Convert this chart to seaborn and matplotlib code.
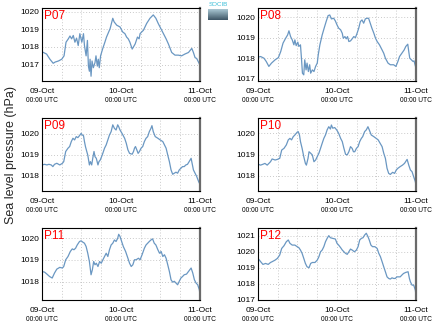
import matplotlib
matplotlib.use("Agg")
import matplotlib.pyplot as plt
from matplotlib.ticker import MultipleLocator, FixedLocator
import numpy as np
import seaborn as sns
import pandas as pd

# ---------------- data (hours since 09-Oct 00:00 UTC, sea level pressure hPa) -------------
stations = ["P07", "P08", "P09", "P10", "P11", "P12"]

p07_hours = [0, 1.4, 2.4, 3.4, 4.0, 5.0, 6.0, 6.7, 7.3, 8.0, 8.5, 9.0, 9.5, 10.0, 10.5, 11.0, 11.5, 12.1, 12.6, 12.9,
             13.4, 13.8, 14.1, 14.4, 14.6, 14.9, 15.2, 15.6, 16.1, 16.4, 16.8, 17.1, 17.4, 17.8, 18.4, 19.1, 19.6, 20.7,
             21.5, 21.9, 22.7, 23.7, 24.5, 25.2, 25.7, 26.2, 26.7, 27.4, 28.3, 29.0, 29.5, 29.8, 30.3, 30.8, 31.8, 32.8,
             33.8, 34.6, 35.3, 36.1, 36.9, 37.7, 38.4, 39.4, 40.4, 41.4, 42.4, 43.4, 44.5, 45.5, 46.0, 46.5, 47.0, 47.8, 48.0]
p07_hpa = [1017.73, 1017.60, 1017.31, 1017.08, 1017.15, 1017.21, 1017.31, 1017.50, 1018.27, 1018.46, 1018.62, 1018.46,
           1018.65, 1018.27, 1018.50, 1018.08, 1018.75, 1018.27, 1018.75, 1018.08, 1017.50, 1018.37, 1016.92, 1016.63,
           1017.31, 1016.35, 1017.21, 1016.83, 1017.12, 1017.50, 1016.92, 1017.31, 1016.83, 1017.50, 1017.88, 1018.27,
           1018.56, 1019.04, 1019.62, 1019.42, 1019.23, 1019.13, 1018.85, 1018.75, 1018.56, 1018.46, 1018.27, 1017.88,
           1018.17, 1018.56, 1018.46, 1018.75, 1018.85, 1018.94, 1019.33, 1019.62, 1019.81, 1019.62, 1019.33, 1019.04,
           1018.75, 1018.46, 1018.17, 1017.69, 1017.54, 1017.54, 1017.50, 1017.60, 1017.69, 1017.92, 1017.69, 1017.40,
           1017.35, 1017.05, 1016.92]

p08_hours = [0, 0.8, 1.8, 2.5, 3.3, 4.1, 5.2, 6.2, 6.9, 7.6, 8.4, 9.0, 9.4, 9.9, 10.4, 10.9, 11.2, 11.6, 12.1, 12.4,
             12.9, 13.2, 13.5, 13.9, 14.2, 14.6, 14.9, 15.3, 15.7, 16.0, 16.5, 17.0, 17.5, 18.0, 18.3, 18.8, 19.5, 20.1,
             20.7, 21.3, 21.8, 22.3, 23.0, 23.5, 24.0, 24.5, 25.1, 25.6, 25.9, 26.4, 26.8, 27.2, 27.6, 28.1, 28.6, 29.1,
             29.6, 30.1, 30.6, 31.1, 31.6, 32.1, 32.6, 33.1, 33.6, 34.1, 34.6, 35.2, 35.7, 36.2, 36.9, 37.7, 38.2, 38.7,
             39.5, 40.2, 41.2, 41.9, 42.5, 43.0, 43.7, 44.4, 44.9, 45.5, 45.8, 46.1, 46.6, 47.1, 47.4, 48.0]
p08_hpa = [1018.06, 1018.09, 1018.01, 1017.85, 1017.61, 1017.77, 1017.93, 1018.04, 1018.33, 1018.74, 1018.98, 1019.14,
           1019.34, 1019.06, 1018.90, 1018.66, 1018.90, 1018.62, 1018.79, 1018.58, 1018.66, 1018.01, 1017.28, 1017.20,
           1017.93, 1017.44, 1017.77, 1017.36, 1017.69, 1017.28, 1017.44, 1017.36, 1017.61, 1017.77, 1018.17, 1018.66,
           1019.14, 1019.47, 1019.79, 1020.08, 1020.11, 1019.92, 1019.95, 1019.82, 1019.63, 1019.47, 1019.39, 1019.22,
           1018.98, 1019.06, 1018.95, 1019.06, 1018.82, 1018.85, 1018.95, 1019.06, 1019.01, 1019.22, 1019.47, 1019.79,
           1019.87, 1019.71, 1019.92, 1019.95, 1019.95, 1019.71, 1019.47, 1019.22, 1018.98, 1018.82, 1018.66, 1018.41,
           1018.25, 1018.01, 1017.77, 1017.69, 1017.69, 1017.61, 1017.85, 1018.09, 1018.25, 1018.41, 1018.58, 1018.69,
           1018.33, 1018.01, 1017.93, 1017.85, 1017.88, 1017.52]

p09_hours = [0, 0.8, 1.5, 2.1, 2.8, 3.3, 3.8, 4.5, 5.4, 6.2, 6.6, 7.2, 7.9, 8.4, 8.9, 9.4, 9.9, 10.4, 10.9, 11.4,
             11.9, 12.2, 12.6, 12.9, 13.2, 13.6, 13.9, 14.4, 14.7, 15.1, 15.5, 15.8, 16.1, 16.5, 17.0, 17.3, 17.7, 18.3,
             19.0, 19.5, 20.0, 20.5, 21.0, 21.5, 22.0, 22.5, 23.0, 23.3, 23.7, 24.3, 25.1, 25.6, 26.1, 26.6, 27.4, 27.8,
             28.1, 28.4, 28.8, 29.2, 29.6, 30.1, 30.6, 31.1, 31.6, 32.1, 32.6, 33.1, 33.4, 33.8, 34.4, 35.2, 35.9, 36.7,
             37.2, 37.7, 38.2, 38.7, 39.2, 39.7, 40.2, 40.7, 41.2, 41.7, 42.2, 42.7, 43.2, 43.7, 44.2, 44.7, 45.3, 45.6,
             46.0, 46.5, 47.0, 47.6, 48.0]
p09_hpa = [1018.50, 1018.53, 1018.50, 1018.53, 1018.50, 1018.42, 1018.53, 1018.58, 1018.50, 1018.58, 1018.66, 1019.15,
           1019.31, 1019.39, 1019.63, 1019.79, 1019.71, 1019.87, 1019.82, 1019.92, 1020.03, 1019.95, 1019.92, 1019.63,
           1019.39, 1019.15, 1018.98, 1018.50, 1018.66, 1018.50, 1018.90, 1019.15, 1018.90, 1018.82, 1018.50, 1018.66,
           1018.74, 1018.98, 1019.31, 1019.47, 1019.71, 1019.95, 1020.11, 1020.44, 1020.27, 1020.19, 1020.44, 1020.35,
           1020.19, 1020.03, 1019.79, 1019.55, 1019.23, 1019.06, 1019.02, 1019.15, 1019.31, 1019.39, 1019.23, 1019.06,
           1019.15, 1019.31, 1019.39, 1019.63, 1019.79, 1019.87, 1020.11, 1020.27, 1020.40, 1020.11, 1019.87, 1019.79,
           1019.71, 1019.63, 1019.47, 1019.31, 1018.98, 1018.66, 1018.26, 1018.05, 1018.10, 1018.15, 1018.10, 1018.26,
           1018.34, 1018.42, 1018.42, 1018.50, 1018.53, 1018.66, 1018.82, 1018.58, 1018.26, 1018.10, 1017.94, 1017.69,
           1017.56]

p10_hours = [0, 0.8, 1.5, 2.1, 2.8, 3.3, 3.8, 4.3, 5.2, 5.9, 6.6, 7.2, 7.9, 8.6, 9.2, 9.7, 10.2, 10.7, 11.2, 11.9,
             12.2, 12.6, 12.9, 13.4, 13.9, 14.4, 14.7, 15.2, 15.5, 16.0, 16.5, 17.0, 17.5, 18.0, 18.5, 19.0, 19.5, 20.0,
             20.5, 21.0, 21.5, 22.0, 22.3, 22.7, 23.3, 23.9, 24.5, 25.1, 25.6, 26.1, 26.6, 27.1, 27.6, 28.1, 28.6, 29.0,
             29.4, 29.9, 30.4, 30.9, 31.4, 31.8, 32.4, 32.9, 33.4, 33.8, 34.4, 35.2, 35.9, 36.5, 37.1, 37.7, 38.2, 38.7,
             39.2, 39.7, 40.2, 40.9, 41.5, 42.0, 42.5, 43.2, 43.9, 44.5, 45.3, 45.8, 46.3, 46.8, 47.3, 47.8, 48.0]
p10_hpa = [1018.54, 1018.50, 1018.54, 1018.58, 1018.50, 1018.58, 1018.66, 1018.79, 1018.74, 1018.77, 1018.82, 1019.21,
           1019.29, 1019.45, 1019.69, 1019.76, 1019.69, 1019.84, 1019.92, 1020.05, 1020.08, 1019.92, 1019.61, 1019.29,
           1018.90, 1018.58, 1018.50, 1018.82, 1019.13, 1019.06, 1018.98, 1018.66, 1018.74, 1018.90, 1019.06, 1019.29,
           1019.53, 1019.76, 1019.92, 1020.16, 1020.31, 1020.20, 1020.39, 1020.24, 1020.27, 1020.16, 1020.00, 1019.76,
           1019.61, 1019.29, 1019.01, 1018.98, 1019.13, 1019.37, 1019.29, 1019.13, 1019.13, 1019.29, 1019.37, 1019.61,
           1019.76, 1019.84, 1020.08, 1020.16, 1020.31, 1020.16, 1019.92, 1019.84, 1019.76, 1019.69, 1019.53, 1019.37,
           1019.06, 1018.82, 1018.35, 1018.11, 1018.06, 1018.16, 1018.11, 1018.27, 1018.35, 1018.43, 1018.50, 1018.58,
           1018.77, 1018.50, 1018.27, 1018.19, 1017.95, 1017.72, 1017.56]

p11_hours = [0, 0.8, 1.5, 2.3, 3.1, 3.8, 4.5, 5.4, 6.2, 6.6, 7.2, 7.9, 8.6, 9.2, 9.7, 10.2, 10.7, 11.4, 11.9, 12.4,
             12.9, 13.4, 13.9, 14.4, 14.9, 15.3, 15.7, 16.1, 16.5, 17.0, 17.5, 18.0, 18.5, 19.0, 19.5, 20.0, 20.5, 21.0,
             21.5, 22.0, 22.5, 23.0, 23.3, 23.7, 24.2, 24.7, 25.4, 26.1, 26.6, 27.1, 27.6, 28.1, 28.6, 29.3, 29.8, 30.4,
             31.1, 31.6, 32.1, 32.6, 33.1, 33.6, 34.1, 34.6, 35.2, 35.7, 36.2, 36.7, 37.2, 37.7, 38.2, 38.7, 39.2, 39.7,
             40.2, 40.7, 41.2, 41.7, 42.2, 42.7, 43.2, 43.9, 44.5, 45.3, 45.8, 46.3, 46.8, 47.3, 47.8, 48.0]
p11_hpa = [1018.47, 1018.44, 1018.35, 1018.24, 1018.17, 1018.40, 1018.58, 1018.66, 1018.63, 1018.70, 1019.01, 1019.16,
           1019.39, 1019.51, 1019.47, 1019.54, 1019.69, 1019.85, 1019.88, 1019.82, 1019.77, 1019.62, 1019.31, 1018.93,
           1018.32, 1018.55, 1018.93, 1018.78, 1018.85, 1018.70, 1018.93, 1018.85, 1019.01, 1019.16, 1019.31, 1019.16,
           1019.47, 1019.69, 1019.77, 1019.92, 1019.85, 1020.00, 1020.18, 1020.08, 1019.85, 1019.62, 1019.39, 1019.08,
           1018.85, 1018.70, 1018.78, 1019.01, 1019.01, 1019.08, 1019.01, 1019.24, 1019.54, 1019.69, 1019.77, 1019.85,
           1019.92, 1019.97, 1019.77, 1019.69, 1019.47, 1019.31, 1019.39, 1019.16, 1019.24, 1019.08, 1018.78, 1018.47,
           1018.09, 1017.98, 1018.02, 1017.94, 1017.86, 1018.02, 1018.17, 1018.24, 1018.32, 1018.35, 1018.47, 1018.63,
           1018.40, 1018.09, 1017.94, 1017.86, 1017.63, 1017.40]

p12_hours = [0, 0.8, 1.5, 2.3, 3.1, 3.8, 4.3, 5.2, 5.9, 6.6, 7.2, 7.9, 8.6, 9.2, 9.7, 10.4, 11.2, 11.9, 12.4, 12.9,
             13.4, 13.9, 14.4, 14.9, 15.5, 16.0, 16.5, 17.3, 18.0, 18.5, 19.0, 19.5, 20.0, 20.5, 21.0, 21.5, 22.0, 22.7,
             23.5, 24.0, 24.5, 25.1, 25.6, 26.1, 26.6, 27.1, 27.6, 28.1, 28.6, 29.3, 29.9, 30.4, 30.9, 31.4, 31.9, 32.4,
             32.9, 33.4, 33.8, 34.3, 34.8, 35.5, 36.2, 36.7, 37.2, 37.7, 38.2, 38.7, 39.2, 39.7, 40.2, 40.7, 41.2, 41.7,
             42.2, 42.7, 43.2, 43.7, 44.2, 44.9, 45.6, 46.0, 46.3, 46.8, 47.3, 47.8, 48.0]
p12_hpa = [1019.58, 1019.37, 1019.20, 1019.26, 1019.20, 1019.32, 1019.37, 1019.47, 1019.58, 1019.79, 1020.20, 1020.37,
           1020.62, 1020.73, 1020.52, 1020.41, 1020.41, 1020.31, 1020.25, 1020.10, 1019.89, 1019.58, 1019.26, 1019.05,
           1018.99, 1019.26, 1019.32, 1019.32, 1019.47, 1019.68, 1019.99, 1020.10, 1020.31, 1020.62, 1020.83, 1021.00,
           1020.87, 1020.83, 1020.79, 1020.52, 1020.41, 1020.25, 1020.10, 1019.99, 1019.89, 1019.83, 1019.99, 1020.16,
           1020.10, 1019.99, 1020.10, 1020.31, 1020.73, 1020.83, 1020.87, 1021.04, 1021.15, 1020.94, 1020.73, 1020.41,
           1020.31, 1020.31, 1020.20, 1019.89, 1019.68, 1019.37, 1019.05, 1018.74, 1018.42, 1018.32, 1018.28, 1018.36,
           1018.32, 1018.32, 1018.42, 1018.42, 1018.42, 1018.53, 1018.63, 1018.70, 1018.74, 1018.32, 1018.11, 1017.90,
           1017.90, 1017.59, 1017.27]

tick_hours = [0, 24, 48]
tick_dates = ["09-Oct", "10-Oct", "11-Oct"]
tick_times = ["00:00 UTC", "00:00 UTC", "00:00 UTC"]
ylabel = "Sea level pressure (hPa)"

# ---------------- build table ----------------
series = {
    "P07": (p07_hours, p07_hpa), "P08": (p08_hours, p08_hpa), "P09": (p09_hours, p09_hpa),
    "P10": (p10_hours, p10_hpa), "P11": (p11_hours, p11_hpa), "P12": (p12_hours, p12_hpa),
}
frames = []
for st in stations:
    h, v = series[st]
    frames.append(pd.DataFrame({"station": st, "hours": h, "hpa": v}))
df = pd.concat(frames, ignore_index=True)

# ---------------- style ----------------
sns.set_theme(style="white")
plt.rcParams["font.family"] = ["Liberation Sans", "DejaVu Sans"]

W, H = 435, 327
fig = plt.figure(figsize=(W / 100, H / 100), dpi=100)
fig.patch.set_facecolor("white")

# axes rectangles in pixels (left, right) and (top, bottom)
cols = [(42, 200), (258, 416)]
rows = [(8, 81), (118, 191), (228, 300)]
ylims = {"P07": (1016.08, 1020.2), "P08": (1016.9, 1020.45), "P09": (1017.24, 1020.77),
         "P10": (1017.28, 1020.72), "P11": (1017.16, 1020.47), "P12": (1016.97, 1021.48)}

line_color = "#6a97c2"

for i, st in enumerate(stations):
    r, c = divmod(i, 2)
    x0, x1 = cols[c]
    y0, y1 = rows[r]
    ax = fig.add_axes([x0 / W, 1 - y1 / H, (x1 - x0) / W, (y1 - y0) / H])
    sub = df[df["station"] == st]
    sns.lineplot(data=sub, x="hours", y="hpa", ax=ax, color=line_color, linewidth=0.9,
                 estimator=None, legend=False)
    ax.set_xlim(0, 48)
    ax.set_ylim(*ylims[st])
    ax.set_xlabel("")
    ax.set_ylabel("")
    ax.xaxis.set_major_locator(FixedLocator(tick_hours))
    ax.xaxis.set_minor_locator(MultipleLocator(6))
    ax.yaxis.set_major_locator(MultipleLocator(1))
    ax.set_xticklabels(tick_dates)
    ax.yaxis.set_major_formatter(matplotlib.ticker.FormatStrFormatter("%d"))
    ax.tick_params(axis="both", which="both", direction="in", length=2, width=0.6,
                   labelsize=6, pad=2, colors="black")
    ax.tick_params(axis="x", which="major", pad=5)
    ax.tick_params(axis="x", which="minor", length=1.5)
    ax.grid(True, axis="x", which="both", linestyle=(0, (1, 2.5)), color="#b8b8b8", linewidth=0.6)
    ax.grid(True, axis="y", which="major", linestyle=(0, (1, 2.5)), color="#b8b8b8", linewidth=0.6)
    for side in ["left", "bottom", "top"]:
        ax.spines[side].set_color("black")
        ax.spines[side].set_linewidth(0.8)
    ax.spines["right"].set_color("#6a6a6a")
    ax.spines["right"].set_linewidth(1.6)
    ax.text(0.015, 0.97, st, transform=ax.transAxes, color="red", fontsize=8.5,
            ha="left", va="top")
    for h, t in zip(tick_hours, tick_times):
        ax.text(h, -0.22, t, transform=ax.get_xaxis_transform(), ha="center", va="top",
                fontsize=4.8, color="black")

fig.text(11 / W, 1 - 155 / H, ylabel, rotation=90, ha="center", va="center", fontsize=9)

# small logo at top centre (cyan lettering over a gradient tile)
fig.text(218 / W, 1 - 4 / H, "SOCIB", color="#3bbfd8", fontsize=4.5, ha="center", va="center")
logo_ax = fig.add_axes([208 / W, 1 - 20 / H, 20 / W, 11 / H])
grad = np.linspace(0, 1, 32).reshape(-1, 1)
logo_ax.imshow(grad, aspect="auto", cmap=matplotlib.colors.LinearSegmentedColormap.from_list(
    "logo", ["#a9c7d3", "#3e5666"]))
logo_ax.set_axis_off()

fig.savefig("out.png", dpi=100)
